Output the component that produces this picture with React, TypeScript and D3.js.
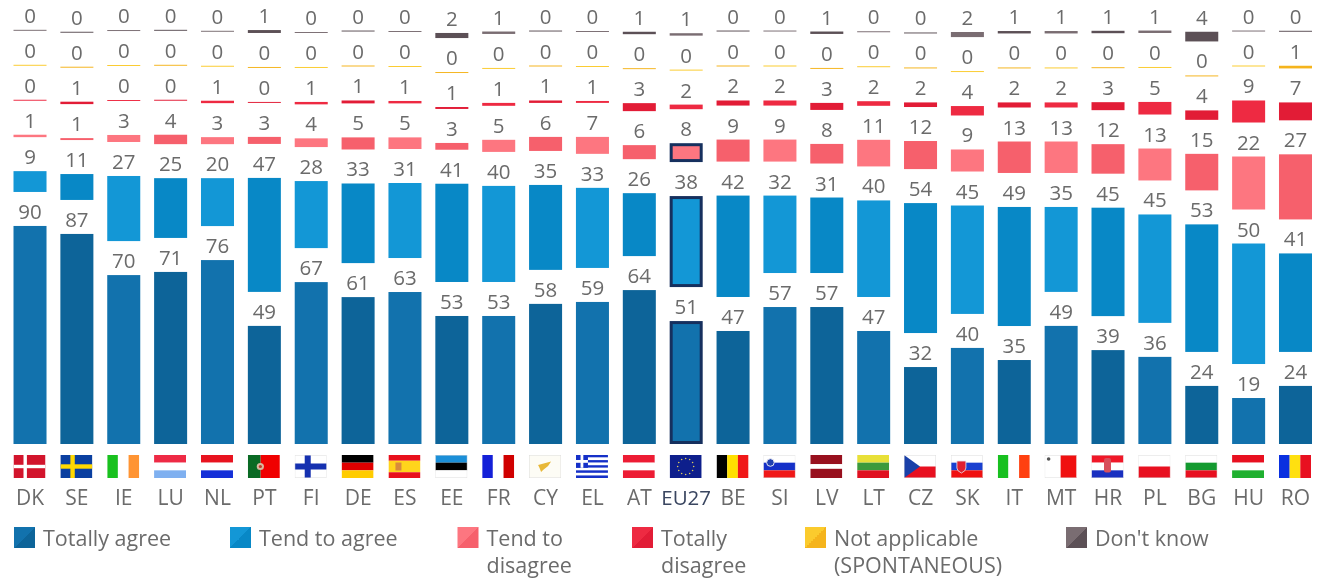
import * as d3 from "d3";

const countries = ["DK", "SE", "IE", "LU", "NL", "PT", "FI", "DE", "ES", "EE", "FR", "CY", "EL", "AT", "EU27", "BE", "SI", "LV", "LT", "CZ", "SK", "IT", "MT", "HR", "PL", "BG", "HU", "RO"];

// values carry one decimal, the labels are the rounded ones
const totallyAgree = [90.1, 86.8, 69.8, 71.1, 76.0, 48.8, 66.9, 60.7, 62.8, 52.9, 52.9, 57.9, 58.7, 63.6, 50.8, 46.7, 56.6, 56.6, 46.7, 31.8, 39.7, 34.7, 48.8, 38.8, 36.0, 24.0, 19.0, 24.0];
const tendAgree = [8.6, 10.7, 26.9, 24.7, 19.8, 47.1, 27.7, 32.9, 31.0, 40.6, 39.7, 35.1, 33.1, 26.0, 37.6, 41.9, 32.0, 31.2, 39.9, 53.7, 44.8, 49.2, 35.1, 44.8, 44.8, 52.7, 49.8, 40.7];
const tendDisagree = [1.0, 0.8, 2.9, 3.9, 2.9, 2.9, 3.6, 5.0, 4.8, 2.8, 5.0, 5.8, 7.0, 5.8, 7.8, 9.1, 9.1, 8.1, 11.0, 11.6, 9.1, 13.0, 13.0, 12.2, 13.2, 15.1, 21.9, 26.9];
const totallyDisagree = [0.4, 1.0, 0.4, 0.4, 1.0, 0.4, 1.0, 1.2, 1.0, 0.8, 1.2, 1.0, 0.8, 3.3, 1.9, 2.1, 2.1, 2.9, 1.9, 1.9, 3.9, 2.1, 2.1, 3.3, 5.2, 3.9, 9.1, 7.4];
const notApplicable = [0.4, 0.4, 0.4, 0.4, 0.4, 0.4, 0.4, 0.4, 0.4, 0.4, 0.4, 0.4, 0.4, 0.4, 0.4, 0.4, 0.4, 0.4, 0.4, 0.4, 0.4, 0.4, 0.4, 0.4, 0.4, 0.4, 0.4, 1.1];
const dontKnow = [0.4, 0.4, 0.4, 0.4, 0.4, 1.2, 0.4, 0.4, 0.4, 2.1, 1.0, 0.4, 0.4, 1.0, 1.0, 0.4, 0.4, 1.0, 0.4, 0.4, 2.1, 1.0, 1.0, 1.0, 1.0, 4.0, 0.4, 0.4];

const seriesValues = [totallyAgree, tendAgree, tendDisagree, totallyDisagree, notApplicable, dontKnow];
const seriesNames = [["Totally agree"], ["Tend to agree"], ["Tend to", "disagree"], ["Totally", "disagree"], ["Not applicable", "(SPONTANEOUS)"], ["Don't know"]];
// light shade, dark shade: the columns alternate between the two
const seriesColors = [
  ["#1272ad", "#0d6499"],
  ["#1397d6", "#0888c6"],
  ["#fd7680", "#f6606c"],
  ["#ee2a42", "#e21c36"],
  ["#fbcb2d", "#f5b41c"],
  ["#7a6d72", "#5c5056"],
];
const legendX = [14, 230, 457.5, 632, 805, 1066];

const width = 1321;
const height = 580;
const baseline = 444;
const gap = 34;
const font = "'Open Sans', sans-serif";
const textColor = "#6b6b6b";

const x = d3.scaleBand<string>().domain(countries).range([13.5, 1312]).paddingInner(0.2956).paddingOuter(0);
const y = d3.scaleLinear().domain([0, 100]).range([0, 242]);

function Stripes({ colors, dir, weights }: { colors: string[]; dir: "h" | "v"; weights?: number[] }) {
  const w = weights ?? colors.map(() => 1);
  const total = d3.sum(w);
  const size = dir === "h" ? 23 : 32;
  const offsets = d3.cumsum([0, ...w]);
  return (
    <>
      {colors.map((c, i) =>
        dir === "h" ? (
          <rect key={i} x={0} y={(offsets[i] / total) * size} width={32} height={(w[i] / total) * size} fill={c} />
        ) : (
          <rect key={i} x={(offsets[i] / total) * size} y={0} width={(w[i] / total) * size} height={23} fill={c} />
        )
      )}
    </>
  );
}

function Cross({ bg, fg, t = 4 }: { bg: string; fg: string; t?: number }) {
  return (
    <>
      <rect width={32} height={23} fill={bg} />
      <rect x={10} width={t} height={23} fill={fg} />
      <rect y={(23 - t) / 2} width={32} height={t} fill={fg} />
    </>
  );
}

function FlagArt({ code }: { code: string }) {
  switch (code) {
    case "DK": return <Cross bg="#d2142c" fg="#fff" t={3.4} />;
    case "SE": return <Cross bg="#0a3fa0" fg="#ffd800" t={4.4} />;
    case "FI": return <Cross bg="#fff" fg="#1530b0" t={6} />;
    case "IE": return <Stripes dir="v" colors={["#19c11f", "#fff", "#ff9433"]} />;
    case "LU": return <Stripes dir="h" colors={["#ee2a45", "#fff", "#7fb0f0"]} />;
    case "NL": return <Stripes dir="h" colors={["#e8131f", "#fff", "#1530d8"]} />;
    case "PT":
      return (
        <>
          <Stripes dir="v" colors={["#0a6a24", "#f00000"]} weights={[2, 3]} />
          <circle cx={12.5} cy={11.5} r={3.6} fill="#d8b8a0" />
          <circle cx={12.5} cy={11.5} r={1.6} fill="#c43a2a" />
        </>
      );
    case "DE": return <Stripes dir="h" colors={["#000", "#e00000", "#ffcc00"]} />;
    case "ES":
      return (
        <>
          <Stripes dir="h" colors={["#e8101c", "#ffd41c", "#e8101c"]} weights={[1, 2, 1]} />
          <rect x={7} y={7.5} width={6} height={8} fill="#d88a3c" />
        </>
      );
    case "EE": return <Stripes dir="h" colors={["#1b8fd8", "#000", "#fff"]} />;
    case "FR": return <Stripes dir="v" colors={["#1420d8", "#fff", "#d00000"]} />;
    case "CY":
      return (
        <>
          <rect width={32} height={23} fill="#fdfcf5" />
          <path d="M9 10 L22 6.5 L19 11 L14 15 L12 17 L10.5 13 Z" fill="#e8b838" />
        </>
      );
    case "EL":
      return (
        <>
          <Stripes dir="h" colors={["#1530c8", "#fff", "#1530c8", "#fff", "#1530c8", "#fff", "#1530c8", "#fff", "#1530c8"]} />
          <rect width={12} height={12.8} fill="#1530c8" />
          <rect x={4.6} width={2.8} height={12.8} fill="#fff" />
          <rect y={5} width={12} height={2.8} fill="#fff" />
        </>
      );
    case "AT": return <Stripes dir="h" colors={["#ed1c34", "#fff", "#ed1c34"]} />;
    case "EU":
      return (
        <>
          <rect width={32} height={23} fill="#0e1f8c" />
          {d3.range(12).map((i) => (
            <circle key={i} cx={16 + 8 * Math.cos((i * Math.PI) / 6)} cy={11.5 + 8 * Math.sin((i * Math.PI) / 6)} r={0.8} fill="#d8c860" />
          ))}
        </>
      );
    case "BE": return <Stripes dir="v" colors={["#000", "#ffe000", "#f01818"]} />;
    case "SI":
      return (
        <>
          <Stripes dir="h" colors={["#fff", "#1530c8", "#f01818"]} />
          <circle cx={7} cy={7.5} r={3.8} fill="#2040b0" stroke="#e8e8f0" strokeWidth={1} />
        </>
      );
    case "LV": return <Stripes dir="h" colors={["#98101e", "#fff", "#98101e"]} weights={[2, 1, 2]} />;
    case "LT": return <Stripes dir="h" colors={["#e8e038", "#3c9a3c", "#e01020"]} />;
    case "CZ":
      return (
        <>
          <Stripes dir="h" colors={["#fff", "#e81020"]} />
          <path d="M0 0 L16 11.5 L0 23 Z" fill="#1a40a8" />
        </>
      );
    case "SK":
      return (
        <>
          <Stripes dir="h" colors={["#fff", "#1a40d0", "#f01010"]} />
          <path d="M6 6 H15 V13 Q15 16 10.5 18 Q6 16 6 13 Z" fill="#e02030" stroke="#e8e8f0" strokeWidth={0.8} />
        </>
      );
    case "IT": return <Stripes dir="v" colors={["#18c020", "#fff", "#ff4010"]} />;
    case "MT":
      return (
        <>
          <Stripes dir="v" colors={["#fff", "#f01010"]} />
          <circle cx={4} cy={4} r={1.8} fill="#555" />
        </>
      );
    case "HR":
      return (
        <>
          <Stripes dir="h" colors={["#f01828", "#fff", "#1a30c0"]} />
          <rect x={12.5} y={3} width={7} height={14.5} rx={2} fill="#d8505c" />
        </>
      );
    case "PL": return <Stripes dir="h" colors={["#fff", "#e81020"]} />;
    case "BG": return <Stripes dir="h" colors={["#fff", "#149a30", "#e81020"]} />;
    case "HU": return <Stripes dir="h" colors={["#e81020", "#fff", "#20b030"]} />;
    case "RO": return <Stripes dir="v" colors={["#0a30e0", "#ffe010", "#e81020"]} />;
    default: return null;
  }
}

const paleBorder = ["FI", "CY", "MT", "PL", "EE", "SK", "SI", "CZ", "BG", "HR"];

export default function App() {
  return (
    <svg width={width} height={height} style={{ position: "absolute", left: 0, top: 0, fontFamily: font, filter: "blur(0.45px)" }}>
      <rect width={width} height={height} fill="#fff" />
      {countries.map((code, col) => {
        const isEu = code === "EU27";
        const bx = x(code)!;
        const bw = x.bandwidth();
        let bottom = baseline;
        return (
          <g key={code}>
            {seriesValues.map((vals, s) => {
              const v = vals[col];
              const h = y(v);
              const top = bottom - h;
              bottom = top - gap;
              const outlined = isEu && s <= 2;
              return (
                <g key={s}>
                  <rect
                    x={outlined ? bx + 1.5 : bx}
                    y={outlined ? top + 1.5 : top}
                    width={outlined ? bw - 3 : bw}
                    height={outlined ? h - 3 : h}
                    fill={seriesColors[s][col % 2]}
                    stroke={outlined ? "#16305e" : "none"}
                    strokeWidth={outlined ? 3 : 0}
                  />
                  <text x={bx + bw / 2} y={top - 7} textAnchor="middle" fontSize={20.5} fill={textColor}>
                    {Math.round(v)}
                  </text>
                </g>
              );
            })}
            <svg x={bx} y={455} width={32} height={23} viewBox="0 0 32 23">
              <FlagArt code={isEu ? "EU" : code} />
              {paleBorder.includes(code) && <rect x={0.25} y={0.25} width={31.5} height={22.5} fill="none" stroke="#dcdcdc" strokeWidth={0.5} />}
            </svg>
            <text x={bx + bw / 2} y={505} textAnchor="middle" fontSize={isEu ? 20.5 : 21} fill={isEu ? "#3a4660" : textColor}>
              {code}
            </text>
          </g>
        );
      })}
      {seriesNames.map((lines, s) => (
        <g key={s}>
          <defs>
            <linearGradient id={`swatch${s}`} x1="0" y1="0" x2="1" y2="1">
              <stop offset="50%" stopColor={seriesColors[s][0]} />
              <stop offset="50%" stopColor={seriesColors[s][1]} />
            </linearGradient>
          </defs>
          <rect x={legendX[s]} y={527} width={21} height={21} fill={`url(#swatch${s})`} />
          {lines.map((line, i) => (
            <text key={line} x={legendX[s] + 29} y={546 + i * 26.5} fontSize={21.5} fill={textColor}>
              {line}
            </text>
          ))}
        </g>
      ))}
    </svg>
  );
}
